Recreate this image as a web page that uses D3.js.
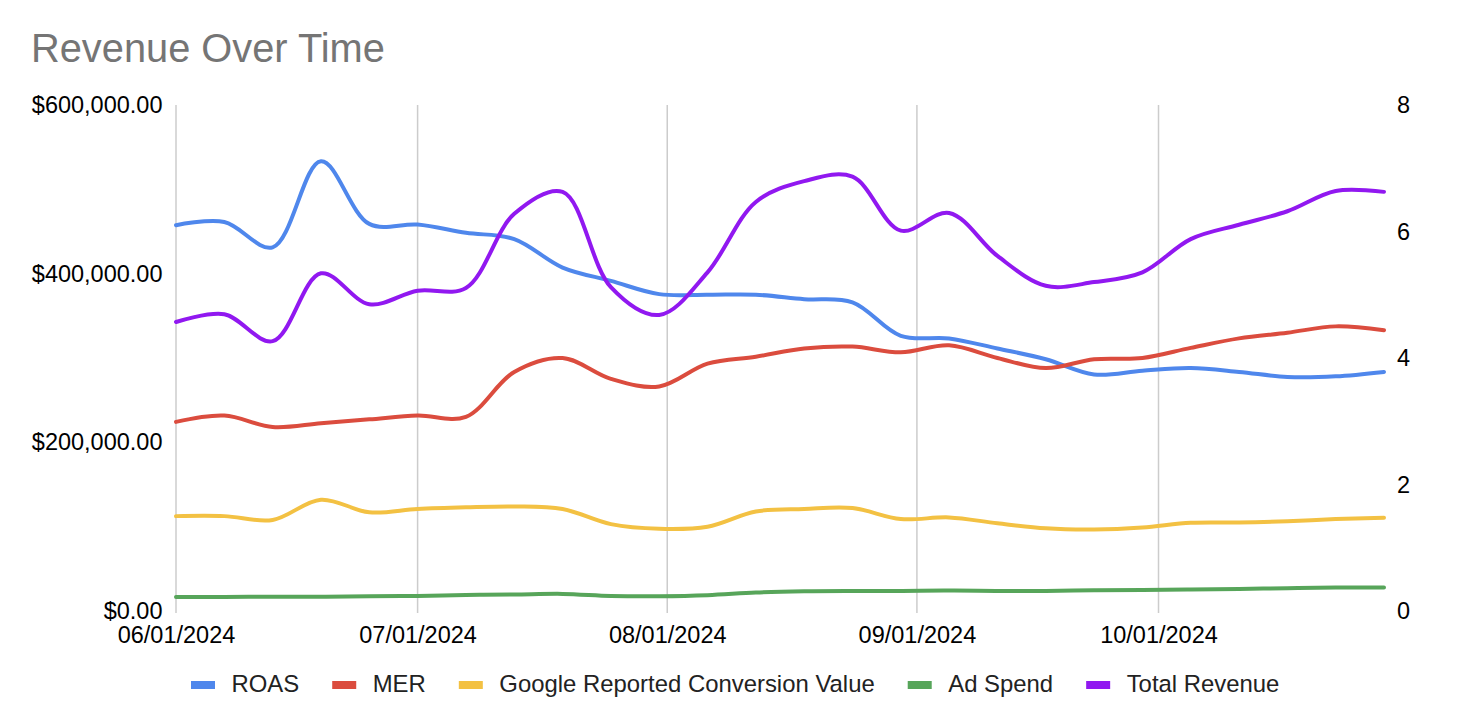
<!DOCTYPE html>
<html>
<head>
<meta charset="utf-8">
<script src="https://cdn.jsdelivr.net/npm/d3@7"></script>
<style>
  body { margin: 0; background: #fff; }
  svg { font-family: "Liberation Sans", Arial, sans-serif; }
</style>
</head>
<body>
<div id="chart"></div>
<script>
// data points, one every 6 days
const dates = ["06/01/2024","06/07/2024","06/13/2024","06/19/2024","06/25/2024","07/01/2024",
  "07/07/2024","07/13/2024","07/19/2024","07/25/2024","07/31/2024","08/06/2024","08/12/2024",
  "08/18/2024","08/24/2024","08/30/2024","09/05/2024","09/11/2024","09/17/2024","09/23/2024",
  "09/29/2024","10/05/2024","10/11/2024","10/17/2024","10/23/2024","10/29/2024"]

// right axis series
const roas = [6.10, 6.15, 5.75, 7.11, 6.12, 6.11, 5.98, 5.88, 5.43, 5.22, 5.01, 5.00, 5.00,
  4.93, 4.88, 4.35, 4.31, 4.15, 3.98, 3.74, 3.80, 3.84, 3.78, 3.70, 3.71, 3.78]
const mer = [2.99, 3.09, 2.91, 2.97, 3.03, 3.09, 3.07, 3.78, 4.00, 3.67, 3.55, 3.91, 4.02,
  4.15, 4.18, 4.09, 4.20, 4.00, 3.84, 3.98, 4.00, 4.16, 4.31, 4.40, 4.50, 4.44]

// left axis series
const googleValue = [112500, 112500, 108000, 132000, 117000, 121000, 123000, 124000, 121000, 103000,
  97500, 100000, 118000, 121000, 122000, 109000, 111000, 104000, 98000, 96600, 99000, 104600,
  105000, 106500, 109000, 110500]
const adSpend = [16700, 16700, 17000, 17000, 17500, 17900, 19000, 19500, 20300, 17900, 17500,
  18700, 21900, 23400, 23800, 23800, 24200, 23800, 23800, 24600, 25000, 25400, 26200, 27000,
  27800, 27800]
const totalRevenue = [342700, 351900, 320000, 400400, 363800, 379700, 383000, 471000, 497000,
  384000, 351000, 401600, 485000, 509700, 515000, 451000, 472000, 421000, 385600, 390000,
  401600, 441000, 458000, 474000, 498000, 497000]

const leftTicks = [0, 200000, 400000, 600000]
const rightTicks = [0, 2, 4, 6, 8]
const monthTicks = ["06/01/2024","07/01/2024","08/01/2024","09/01/2024","10/01/2024"]

const seriesNames = ["ROAS", "MER", "Google Reported Conversion Value", "Ad Spend", "Total Revenue"]
const seriesColors = ["#4f87ec", "#db4c3e", "#f3c143", "#57a55a", "#9118f0"]

const parseDate = d3.timeParse("%m/%d/%Y")

const W = 1462, H = 722
const margin = {top: 105, right: 78, bottom: 111, left: 176}
const width = W - margin.left - margin.right,
      height = H - margin.top - margin.bottom

const svg = d3.select("#chart")
  .append("svg")
    .attr("width", W)
    .attr("height", H)

svg.append("text")
  .text("Revenue Over Time")
  .attr("x", 31)
  .attr("y", 62)
  .attr("fill", "#757575")
  .attr("font-size", "39.8px")

const g = svg.append("g")
  .attr("transform", `translate(${margin.left}, ${margin.top})`)

const x = d3.scaleTime()
  .domain([parseDate(dates[0]), parseDate(dates[dates.length - 1])])
  .range([0, width])

const yLeft = d3.scaleLinear().domain([0, 600000]).range([height, 0])
const yRight = d3.scaleLinear().domain([0, 8]).range([height, 0])

// vertical gridlines at month starts
g.selectAll(".grid")
  .data(monthTicks)
  .join("line")
    .attr("class", "grid")
    .attr("x1", d => x(parseDate(d)))
    .attr("x2", d => x(parseDate(d)))
    .attr("y1", 0)
    .attr("y2", height + 2)
    .attr("stroke", "#cccccc")
    .attr("stroke-width", 1.5)

// axes
const xAxis = g.append("g")
  .attr("transform", `translate(0, ${height})`)
  .call(d3.axisBottom(x)
    .tickValues(monthTicks.map(parseDate))
    .tickFormat(d3.timeFormat("%m/%d/%Y"))
    .tickSize(0)
    .tickPadding(15.5))

const leftAxis = g.append("g")
  .call(d3.axisLeft(yLeft)
    .tickValues(leftTicks)
    .tickFormat(d => "$" + d3.format(",.2f")(d))
    .tickSize(0)
    .tickPadding(13.5))

const rightAxis = g.append("g")
  .attr("transform", `translate(${width}, 0)`)
  .call(d3.axisRight(yRight)
    .tickValues(rightTicks)
    .tickSize(0)
    .tickPadding(13))

;[xAxis, leftAxis, rightAxis].forEach(a => {
  a.select(".domain").remove()
  a.selectAll("text")
    .attr("font-size", "23.5px")
    .attr("font-family", "Liberation Sans, Arial, sans-serif")
    .attr("fill", "#000")
})

// lines
const series = [
  {values: roas, y: yRight},
  {values: mer, y: yRight},
  {values: googleValue, y: yLeft},
  {values: adSpend, y: yLeft},
  {values: totalRevenue, y: yLeft}
]

series.forEach((s, i) => {
  const line = d3.line()
    .x((d, j) => x(parseDate(dates[j])))
    .y(d => s.y(d))
    .curve(d3.curveCatmullRom)
  g.append("path")
    .datum(s.values)
    .attr("d", line)
    .attr("fill", "none")
    .attr("stroke", seriesColors[i])
    .attr("stroke-width", 4)
    .attr("stroke-linejoin", "round")
    .attr("stroke-linecap", "round")
})

// legend
const legend = svg.append("g").attr("transform", "translate(191, 0)")
let cursor = 0
seriesNames.forEach((name, i) => {
  const item = legend.append("g").attr("transform", `translate(${cursor}, 0)`)
  item.append("rect")
    .attr("x", 0)
    .attr("y", 681)
    .attr("width", 24)
    .attr("height", 8)
    .attr("fill", seriesColors[i])
  const t = item.append("text")
    .text(name)
    .attr("x", 40.5)
    .attr("y", 692)
    .attr("font-size", "23.9px")
    .attr("fill", "#222")
  cursor += 40.5 + t.node().getComputedTextLength() + 33
})
</script>
</body>
</html>
